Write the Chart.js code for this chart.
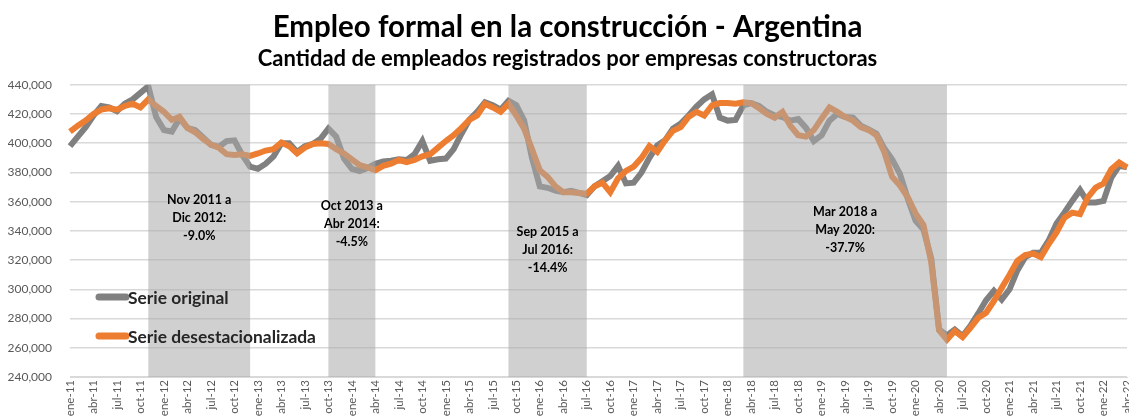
<!DOCTYPE html>
<html>
<head>
<meta charset="utf-8">
<script src="https://cdn.jsdelivr.net/npm/chart.js@4"></script>
<style>
  html, body { margin: 0; padding: 0; background: #fff; }
  #wrap { width: 1129px; height: 417px; }
</style>
</head>
<body>
<div id="wrap"><canvas id="empleoChart" width="1129" height="417"></canvas></div>
<script>
// Meses ene-11 .. abr-22
const monthNames = ["ene", "feb", "mar", "abr", "may", "jun", "jul", "ago", "sep", "oct", "nov", "dic"]
const months = []
for (let y = 11; y <= 22; y++) {
  monthNames.forEach((m, k) => {
    if (y < 22 || k < 4) months.push(m + "-" + y)
  })
}

const serieOriginal = [
  398000, 404500, 411000, 419000, 425500, 424500, 422000, 427000, 430000, 434500, 439000, 418000,
  409000, 408000, 417000, 410500, 409000, 404000, 399000, 397500, 401500, 402000, 392000, 384000,
  382500, 386000, 391000, 400000, 400000, 394000, 398000, 399500, 403000, 410000, 404500, 389500,
  382500, 381000, 383000, 386000, 387500, 388000, 389000, 388500, 392500, 401500, 388000, 389000,
  389500, 396000, 406500, 416000, 421500, 428000, 426000, 423000, 429000, 426000, 415500, 390000,
  370500, 369500, 367500, 366500, 367500, 366000, 364500, 370500, 374000, 377500, 384500, 372500,
  373000, 380000, 390000, 398500, 402000, 410000, 413500, 419000, 425000, 430000, 433500, 417500,
  415500, 416000, 426000, 427500, 425500, 421500, 419000, 418000, 415500, 416500, 410500, 401500,
  405500, 415500, 420000, 418000, 417500, 412000, 409500, 406500, 396500, 389000, 379000, 362000,
  347000, 341000, 321000, 272500, 268500, 272500, 268000, 275000, 283500, 292500, 299000, 293000,
  300000, 313000, 322000, 325000, 325000, 333500, 345000, 352500, 360500, 368000, 359500, 359500,
  360500, 376500, 384500, 383500
]

const serieDesest = [
  408000, 412000, 415500, 420000, 423000, 424000, 423000, 425500, 427000, 424500, 430000, 425500,
  421500, 416000, 418000, 410500, 407500, 403000, 399000, 397000, 392500, 392000, 392500, 391300,
  393000, 395000, 396000, 400500, 398000, 393000, 397000, 399500, 400000, 399500, 396000, 393000,
  389000, 385000, 383500, 381500, 384500, 386000, 388500, 387000, 388500, 391000, 392500, 397000,
  401500, 405500, 410500, 416000, 419000, 427000, 424500, 421500, 427000, 419000, 410000, 396000,
  381500, 377000, 370500, 366500, 366500, 366000, 365500, 370500, 373000, 366500, 376000, 381000,
  384000, 390000, 398000, 394000, 402000, 408500, 411000, 418000, 421500, 419000, 426000, 427500,
  427500, 427000, 428000, 427500, 424000, 420000, 417500, 421500, 412000, 405500, 404500, 409000,
  417000, 424500, 421500, 418000, 415500, 411000, 409000, 405500, 394000, 377000, 371000, 363000,
  352000, 344000, 318500, 272000, 265500, 271500, 267300, 273700, 280500, 284000, 292000, 301000,
  310000, 319500, 323500, 324500, 322000, 331000, 339000, 349000, 352500, 351500, 363000, 369700,
  372500, 382300, 386900, 383400
]

const yMin = 240000
const yMax = 440000
const yStep = 20000

// Periodos de caida (desde, hasta, texto)
const bandFrom = ["nov-11", "oct-13", "sep-15", "mar-18"]
const bandTo = ["dic-12", "abr-14", "jul-16", "may-20"]
const bandText = [
  ["Nov 2011 a", "Dic 2012:", "-9.0%"],
  ["Oct 2013 a", "Abr 2014:", "-4.5%"],
  ["Sep 2015 a", "Jul 2016:", "-14.4%"],
  ["Mar 2018 a", "May 2020:", "-37.7%"]
]
const bandTextAt = [361000, 356900, 339000, 352700]

const FONT = "Lato, 'Open Sans', sans-serif"
Chart.defaults.font.family = FONT

const bandsPlugin = {
  id: "bands",
  afterDatasetsDraw(chart) {
    const { ctx, chartArea, scales } = chart
    ctx.save()
    ctx.fillStyle = "rgba(170,170,170,0.55)"
    bandFrom.forEach((from, i) => {
      const x0 = scales.x.getPixelForValue(months.indexOf(from))
      const x1 = scales.x.getPixelForValue(months.indexOf(bandTo[i]))
      ctx.fillRect(x0, chartArea.top, x1 - x0, chartArea.bottom - chartArea.top)
    })
    ctx.fillStyle = "#000"
    ctx.font = "bold 12.5px " + FONT
    ctx.textAlign = "center"
    ctx.textBaseline = "middle"
    bandFrom.forEach((from, i) => {
      const x0 = scales.x.getPixelForValue(months.indexOf(from))
      const x1 = scales.x.getPixelForValue(months.indexOf(bandTo[i]))
      const y0 = scales.y.getPixelForValue(bandTextAt[i])
      bandText[i].forEach((t, k) => ctx.fillText(t, (x0 + x1) / 2, y0 + k * 18))
    })
    ctx.restore()
  }
}

// Leyenda dentro del grafico
const legendPlugin = {
  id: "inlineLegend",
  afterDraw(chart) {
    const { ctx } = chart
    ctx.save()
    ctx.font = "bold 17.4px " + FONT
    ctx.textBaseline = "middle"
    ctx.lineCap = "round"
    const rows = [297, 336]
    chart.data.datasets.forEach((ds, i) => {
      const y = rows[i]
      ctx.strokeStyle = ds.borderColor
      ctx.lineWidth = 7
      ctx.beginPath()
      ctx.moveTo(99, y)
      ctx.lineTo(126, y)
      ctx.stroke()
      ctx.fillStyle = "#262626"
      ctx.fillText(ds.label, 128, y + 1)
    })
    ctx.restore()
  }
}

const ctx = document.getElementById("empleoChart").getContext("2d")
new Chart(ctx, {
  type: "line",
  data: {
    labels: months,
    datasets: [
      {
        label: "Serie original",
        data: serieOriginal,
        borderColor: "#808080",
        borderWidth: 6,
        pointRadius: 0,
        tension: 0,
        order: 2,
      },
      {
        label: "Serie desestacionalizada",
        data: serieDesest,
        borderColor: "#ED7D31",
        borderWidth: 6,
        pointRadius: 0,
        tension: 0,
        order: 1,
      },
    ],
  },
  options: {
    responsive: false,
    animation: false,
    devicePixelRatio: 1,
    layout: { padding: { left: 8, right: 2, top: 0, bottom: 0 } },
    plugins: {
      legend: { display: false },
      tooltip: { enabled: false },
      title: {
        display: true,
        text: "Empleo formal en la construcción - Argentina",
        color: "#000",
        font: { size: 29.5, weight: "bold", family: FONT },
        padding: { top: 10, bottom: 0 },
      },
      subtitle: {
        display: true,
        text: "Cantidad de empleados registrados por empresas constructoras",
        color: "#000",
        font: { size: 22, weight: "bold", family: FONT },
        padding: { top: 0, bottom: 13 },
      },
    },
    scales: {
      x: {
        grid: { display: false, drawTicks: false },
        border: { display: true, color: "#d9d9d9", width: 1 },
        afterFit: (scale) => {
          scale.paddingLeft = 0
          scale.paddingRight = 0
          scale.height = 40
        },
        ticks: {
          autoSkip: false,
          maxRotation: 90,
          minRotation: 90,
          padding: 3,
          color: "#595959",
          font: { size: 11.5 },
          callback: (v, i) => (i % 3 === 0 ? months[i] : ""),
        },
      },
      y: {
        min: yMin,
        max: yMax,
        grid: { color: "#d9d9d9", lineWidth: 1.5, drawTicks: false },
        border: { display: false },
        afterFit: (scale) => {
          scale.width = 62
        },
        ticks: {
          stepSize: yStep,
          padding: 18,
          color: "#595959",
          font: { size: 12 },
          callback: (v) => v.toLocaleString("en-US"),
        },
      },
    },
  },
  plugins: [bandsPlugin, legendPlugin],
})
</script>
</body>
</html>
